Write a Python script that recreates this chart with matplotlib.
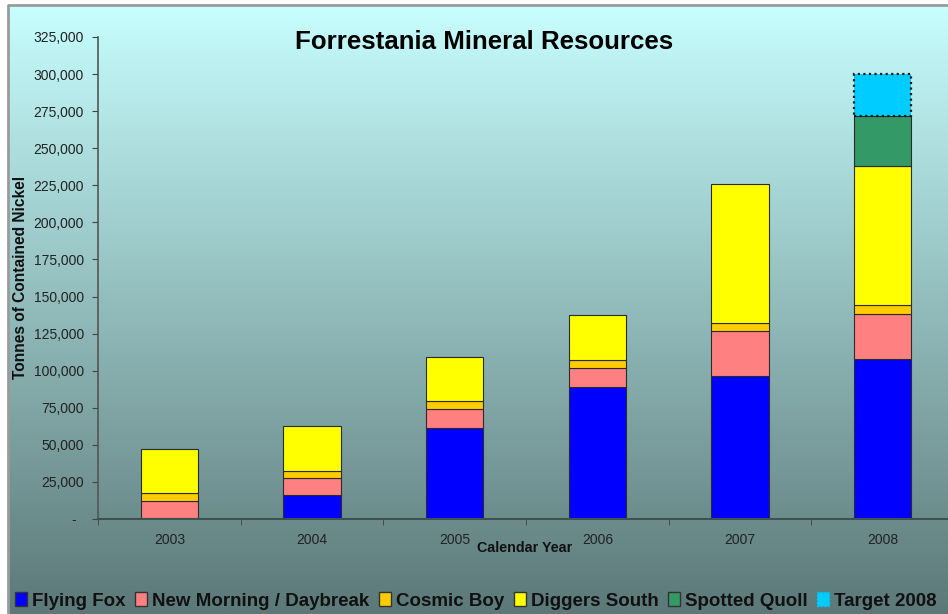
import numpy as np
import matplotlib
matplotlib.use("Agg")
import matplotlib.pyplot as plt
from matplotlib.patches import Patch, Rectangle
from matplotlib.ticker import FuncFormatter

YEARS = ["2003", "2004", "2005", "2006", "2007", "2008"]

SERIES_NAMES = [
    "Flying Fox",
    "New Morning / Daybreak",
    "Cosmic Boy",
    "Diggers South",
    "Spotted Quoll",
    "Target 2008",
]

FLYING_FOX     = [1000, 16000, 61500, 89000, 96500, 108000]
NEW_MORNING    = [11000, 11500, 12500, 13000, 30000, 30500]
COSMIC_BOY     = [5500, 5000, 5500, 5500, 5500, 5500]
DIGGERS_SOUTH  = [30000, 30500, 29500, 30000, 94000, 94000]
SPOTTED_QUOLL  = [0, 0, 0, 0, 0, 34000]
TARGET_2008    = [0, 0, 0, 0, 0, 28000]

COLORS = ["#0000ff", "#ff8080", "#ffcc00", "#ffff00", "#339966", "#00ccff"]

Y_TICKS = list(range(0, 325001, 25000))

W, H = 948, 614
fig = plt.figure(figsize=(W / 100, H / 100), dpi=100)
plt.rcParams["font.family"] = ["Liberation Sans", "DejaVu Sans"]

# background gradient over the whole chart area
bg = fig.add_axes([0, 0, 1, 1], zorder=-10)
top = np.array([200, 255, 255]) / 255
bot = np.array([92, 120, 120]) / 255
t = np.linspace(0, 1, 256)[:, None]
grad = top[None, :] * (1 - t) + bot[None, :] * t
bg.imshow(grad[:, None, :], aspect="auto", extent=[0, W, H, 0])
bg.set_xlim(0, W)
bg.set_ylim(H, 0)
bg.add_patch(Rectangle((0, 0), W, 5, color="white", zorder=2))
bg.add_patch(Rectangle((0, 0), 8, H, color="white", zorder=2))
bg.plot([8, 8, W], [H, 5, 5], color="#9a9a9a", lw=2, zorder=3)
bg.axis("off")

ax = fig.add_axes([98 / W, 1 - 519 / H, 856 / W, (519 - 37) / H])
ax.set_facecolor("none")

x = np.arange(len(YEARS))
data = [FLYING_FOX, NEW_MORNING, COSMIC_BOY, DIGGERS_SOUTH, SPOTTED_QUOLL, TARGET_2008]
bottom = np.zeros(len(YEARS))
for i, (name, vals) in enumerate(zip(SERIES_NAMES, data)):
    vals = np.array(vals, dtype=float)
    keep = vals > 0  # skip empty segments so their edges don't show
    if name == "Target 2008":
        ax.bar(x[keep], vals[keep], 0.4, bottom=bottom[keep], color=COLORS[i],
               edgecolor="#1a1a1a", linewidth=1.6, linestyle=(0, (1, 1.5)))
    else:
        ax.bar(x[keep], vals[keep], 0.4, bottom=bottom[keep], color=COLORS[i],
               edgecolor="#2a2a2a", linewidth=0.8)
    bottom += vals

ax.set_xlim(-0.5, 5.5)
ax.set_ylim(0, 325000)
ax.set_yticks(Y_TICKS)
ax.yaxis.set_major_formatter(FuncFormatter(lambda v, p: "-  " if v == 0 else f"{int(v):,}"))
ax.set_xticks(x)
ax.set_xticklabels(YEARS)
ax.set_xticks(np.arange(-0.5, 6.0, 1.0), minor=True)
ax.tick_params(axis="x", which="major", length=0, pad=10, labelsize=10, labelcolor="#222222")
ax.tick_params(axis="x", which="minor", length=4, color="#444444", direction="out")
ax.tick_params(axis="y", length=4, color="#444444", labelsize=10, labelcolor="#222222", pad=6)

for s in ["top", "right"]:
    ax.spines[s].set_visible(False)
ax.spines["left"].set_color("#555555")
ax.spines["bottom"].set_color("#3e5050")
ax.spines["left"].set_linewidth(1.2)
ax.spines["bottom"].set_linewidth(1.5)

fig.text(484 / W, 1 - 42 / H, "Forrestania Mineral Resources", ha="center", va="center",
         fontsize=18.6, fontweight="bold", color="black")
fig.text(21 / W, 1 - 277 / H, "Tonnes of Contained Nickel", ha="center", va="center",
         rotation=90, fontsize=11.2, fontweight="bold", color="#111111")
fig.text(525 / W, 1 - 548 / H, "Calendar Year", ha="center", va="center",
         fontsize=10.3, fontweight="bold", color="#111111")

handles = []
for i, name in enumerate(SERIES_NAMES):
    if name == "Target 2008":
        handles.append(Patch(facecolor=COLORS[i], edgecolor=COLORS[i], linestyle=":", label=name))
    else:
        handles.append(Patch(facecolor=COLORS[i], edgecolor="#333333", label=name))
fig.legend(handles=handles, loc="center", bbox_to_anchor=(476 / W, 1 - 601 / H), ncol=6,
           frameon=False, prop={"weight": "bold", "size": 13.5}, handlelength=0.64,
           handleheight=0.7, handletextpad=0.27, columnspacing=0.5, borderaxespad=0,
           labelcolor="#111111")

fig.savefig("out.png", dpi=100)
